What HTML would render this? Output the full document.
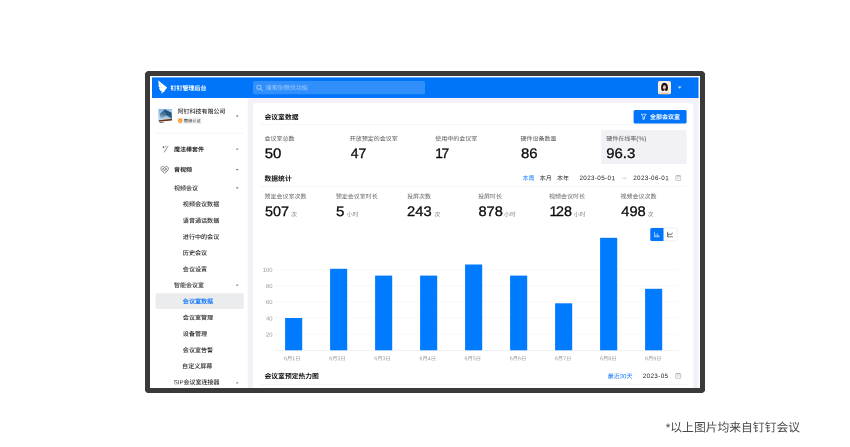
<!DOCTYPE html>
<html lang="zh-CN">
<head>
<meta charset="utf-8">
<title>钉钉管理后台 - 会议室数据</title>
<style>
html,body{margin:0;padding:0;background:#fff;}
body{width:850px;height:447px;position:relative;overflow:hidden;font-family:"Liberation Sans","Noto Sans CJK SC",sans-serif;}
#stage{position:absolute;left:0;top:0;width:850px;height:447px;overflow:hidden;background:#fff;}
#shapes{position:absolute;left:0;top:0;display:block;}
#stage span.t{position:absolute;left:0;top:0;display:block;white-space:nowrap;transform-origin:0 50%;}
</style>
</head>
<body>
<div id="stage">
<svg id="shapes" width="850" height="447" viewBox="0 0 850 447">
<path d="M147.6 71 H702.4 Q704 71.6 705 73.6 V390.4 Q704.4 392 702.4 393 H147.6 Q146 392.4 145 390.4 V73.6 Q145.6 72 147.6 71 Z" fill="#3a3a3a"/>
<rect x="150" y="76" width="550" height="312" fill="#fff"/>
<rect x="152" y="77.4" width="546.5" height="20.599999999999994" fill="#0075fa"/>
<svg x="157.5" y="79.9" width="10" height="14.2" viewBox="0 0 10 14.2" ><path d="M1.1 0.4 C2.0 1.8 4.5 3.6 9.6 7.6 C9.0 8.8 8.0 9.9 7.0 10.7 L7.6 11.0 L3.4 13.8 L4.4 11.4 L2.9 10.9 C2.2 9.8 1.7 8.9 1.5 8.0 L2.3 8.1 C1.4 6.9 0.9 5.9 0.7 5.0 L1.5 5.1 C0.8 3.6 0.7 2.0 1.1 0.4 Z" fill="#fff"/>
<path d="M2.4 4.6 L3.6 5.2 M3.0 7.0 L4.6 7.7" stroke="#0075fa" stroke-width="0.5" stroke-opacity="0.5" fill="none"/></svg>
<rect x="253" y="81" width="172" height="13.3" rx="1.5" fill="#fff" fill-opacity="0.19"/>
<svg x="256.0" y="84.3" width="7" height="7" viewBox="0 0 7 7" ><circle cx="2.9" cy="2.9" r="2.2" fill="none" stroke="#cfe3ff" stroke-width="0.7"/><path d="M4.6 4.6 L6.4 6.4" stroke="#cfe3ff" stroke-width="0.75" stroke-linecap="round"/></svg>
<svg x="657.8" y="81" width="13.2" height="13.5" viewBox="0 0 13.2 13.5" ><rect x="0" y="0" width="13.2" height="13.5" rx="2" fill="#fdebd8"/>
<ellipse cx="6.6" cy="5.8" rx="4.5" ry="5.2" fill="#fff"/>
<rect x="1.6" y="9.6" width="10" height="2.4" fill="#f7f1ee"/>
<path d="M6.7 1.7 C9.2 1.7 10.2 4.0 10.2 6.4 C10.2 8.4 9.6 9.8 8.8 10.1 L4.6 10.1 C3.8 9.8 3.3 8.4 3.3 6.4 C3.3 4.0 4.2 1.7 6.7 1.7 Z" fill="#1c1517"/>
<ellipse cx="6.6" cy="6.2" rx="1.45" ry="2.0" fill="#f3c9c0"/>
<ellipse cx="6.6" cy="7.3" rx="0.5" ry="0.35" fill="#d8475a"/>
<path d="M6.0 8.4 L7.4 8.4 L7.7 10.1 L5.9 10.1 Z" fill="#f2a96a"/>
<rect x="1.4" y="11.1" width="10.4" height="0.5" fill="#d9d5d6"/>
<rect x="1.8" y="12.4" width="9.8" height="0.7" fill="#f7b56a"/></svg>
<svg x="677.4" y="86.0" width="4.6" height="3" viewBox="0 0 4.6 3" ><path d="M0.4 0.4 L4.2 0.4 L2.3 2.7 Z" fill="#c4ddfd"/></svg>
<rect x="152" y="98" width="95.69999999999999" height="290" fill="#fff"/>
<rect x="247.7" y="98" width="450.8" height="290" fill="#f1f1f7"/>
<rect x="247.7" y="98" width="450.8" height="0.9" fill="#f9f0f0"/>
<svg x="158.2" y="108.8" width="14" height="14.2" viewBox="0 0 14 14.2" ><defs><linearGradient id="sky" x1="0" y1="0" x2="0.3" y2="1"><stop offset="0" stop-color="#7fb4e6"/><stop offset="0.6" stop-color="#b9d5ee"/><stop offset="1" stop-color="#f3f6f9"/></linearGradient>
<linearGradient id="bld" x1="0.6" y1="0" x2="0.3" y2="1"><stop offset="0" stop-color="#1d486c"/><stop offset="0.55" stop-color="#4f80a8"/><stop offset="1" stop-color="#c6dcee"/></linearGradient></defs>
<rect width="14" height="14.2" rx="1.2" fill="url(#sky)"/>
<path d="M1.6 11.4 L1.8 4.6 L6.6 0.6 L13.2 4.0 L13.6 10.0 Z" fill="url(#bld)"/>
<path d="M6.6 0.6 L13.2 4.0 L13.6 10.0 L8.2 6.2 Z" fill="#1f4d74" fill-opacity="0.75"/>
<path d="M1.6 11.4 L8.2 6.4 L13.6 10.0 L1.6 11.6 Z" fill="#dbe8f4" fill-opacity="0.55"/>
<path d="M0.5 11.4 L14 9.9 L14 11.9 L1.0 13.4 Z" fill="#6a3214"/>
<path d="M0 13.0 L14 11.6 L14 14.2 L0 14.2 Z" fill="#fbfbfb"/>
<path d="M1.4 13.4 L5.6 13.0 L5.6 13.8 L1.4 14.1 Z" fill="#3a2a22" fill-opacity="0.8"/></svg>
<rect x="177.0" y="117.3" width="24.6" height="6.6" rx="1.2" fill="#f4f4f6"/>
<svg x="177.9" y="118.2" width="4.8" height="4.8" viewBox="0 0 4.8 4.8" ><circle cx="2.4" cy="2.4" r="2.3" fill="#ff9318"/><path d="M1.4 2.4 L2.1 3.1 L3.5 1.7" stroke="#fff" stroke-width="0.6" fill="none"/></svg>
<svg x="235.6" y="115.1" width="3.2" height="2.4" viewBox="0 0 3.2 2.4" ><path d="M0.1 0.3 L3.1 0.3 L1.6 2.1 Z" fill="#7a7a7a"/></svg>
<rect x="155.6" y="132.8" width="88.2" height="0.7" fill="#efeff1"/>
<svg x="161.6" y="145.4" width="7.4" height="7.4" viewBox="0 0 7.4 7.4" fill="none" stroke="#444" stroke-width="0.6" stroke-linecap="round"><path d="M2.6 6.8 L6.4 0.8"/><path d="M1.2 1.8 L2.6 1.8 M1.9 1.1 L1.9 2.5"/><path d="M4.1 0.9 L4.1 1.2"/></svg>
<svg x="235.6" y="148.2" width="3.2" height="2.4" viewBox="0 0 3.2 2.4" ><path d="M0.1 0.3 L3.1 0.3 L1.6 2.1 Z" fill="#7a7a7a"/></svg>
<svg x="160" y="165.8" width="9.2" height="8.4" viewBox="0 0 9.2 8.4" fill="none" stroke="#555" stroke-width="0.6" stroke-linejoin="round"><path d="M4.6 1.6 C3.8 0.4 1.6 0.3 0.9 1.9 C0.2 3.6 1.8 5.2 4.6 7.6 C7.4 5.2 9.0 3.6 8.3 1.9 C7.6 0.3 5.4 0.4 4.6 1.6 Z"/><path d="M2.3 2.0 L6.3 6.0 M6.9 2.0 L2.9 6.0 M4.6 1.8 L7.6 4.6 M4.6 1.8 L1.6 4.6"/></svg>
<svg x="235.6" y="168.6" width="3.2" height="2.4" viewBox="0 0 3.2 2.4" ><path d="M0.1 0.3 L3.1 0.3 L1.6 2.1 Z" fill="#7a7a7a"/></svg>
<svg x="235.6" y="187.0" width="3.2" height="2.4" viewBox="0 0 3.2 2.4" ><path d="M0.1 0.3 L3.1 0.3 L1.6 2.1 Z" fill="#7a7a7a"/></svg>
<svg x="235.6" y="284.2" width="3.2" height="2.4" viewBox="0 0 3.2 2.4" ><path d="M0.1 0.3 L3.1 0.3 L1.6 2.1 Z" fill="#7a7a7a"/></svg>
<rect x="155.6" y="293.2" width="88.2" height="15.8" rx="1.5" fill="#ebecee"/>
<svg x="235.6" y="381.4" width="3.2" height="2.4" viewBox="0 0 3.2 2.4" ><path d="M0.1 2.1 L3.1 2.1 L1.6 0.3 Z" fill="#7a7a7a"/></svg>
<path d="M253 388 V106.8 a4 4 0 0 1 4 -4 H689.5 a4 4 0 0 1 4 4 V388 Z" fill="#fff"/>
<rect x="633.6" y="110" width="53" height="13.5" rx="1.5" fill="#0075fa"/>
<svg x="640.7" y="113.5" width="6.2" height="6.6" viewBox="0 0 6.2 6.6" fill="none" stroke="#fff" stroke-width="0.75" stroke-linejoin="round"><path d="M0.6 0.6 L5.6 0.6 L3.9 3.1 L3.9 5.3 L2.3 6.0 L2.3 3.1 Z"/></svg>
<rect x="259.6" y="124.5" width="427" height="0.6" fill="#f1f1f3"/>
<rect x="601.2" y="130.1" width="85.4" height="33.9" rx="1" fill="#f2f2f6"/>
<svg x="621.6" y="176.3" width="5" height="3.6" viewBox="0 0 5 3.6" fill="none" stroke="#b8b8b8" stroke-width="0.5"><path d="M0.3 1.8 H4.4 M3.2 0.7 L4.4 1.8 L3.2 2.9"/></svg>
<svg x="675.3" y="175" width="6" height="5.8" viewBox="0 0 6 5.8" fill="none" stroke="#777" stroke-width="0.5"><rect x="0.4" y="0.8" width="5.2" height="4.6" rx="0.6"/><path d="M1.9 0.2 L1.9 1.5 M4.1 0.2 L4.1 1.5 M2 3 L4 3"/></svg>
<rect x="259.6" y="186.2" width="427" height="0.6" fill="#f1f1f3"/>
<rect x="650.3" y="227.9" width="26.8" height="13" rx="1.5" fill="#fff" stroke="#e3e4e8" stroke-width="0.6"/>
<path d="M651.8 227.9 H663.5 V240.9 H651.8 a1.5 1.5 0 0 1 -1.5 -1.5 V229.4 a1.5 1.5 0 0 1 1.5 -1.5 Z" fill="#0075fa"/>
<svg x="653.9" y="231.4" width="6" height="6" viewBox="0 0 6 6" fill="none" stroke="#fff" stroke-width="0.6"><path d="M0.5 0.3 L0.5 5.5 L5.8 5.5"/><path d="M2 5.5 L2 3.2 M3.4 5.5 L3.4 2 M4.8 5.5 L4.8 3.8"/></svg>
<svg x="667.1" y="231.4" width="6" height="6" viewBox="0 0 6 6" fill="none" stroke="#222" stroke-width="0.75"><path d="M0.5 0.3 L0.5 5.5 L5.8 5.5"/><path d="M0.8 3.6 L2.4 2.6 L3.6 3.2 L5.6 1.6"/></svg>
<rect x="274.3" y="333.8" width="404.4" height="0.6" fill="#f5f5f7"/>
<rect x="274.3" y="317.6" width="404.4" height="0.6" fill="#f5f5f7"/>
<rect x="274.3" y="301.4" width="404.4" height="0.6" fill="#f5f5f7"/>
<rect x="274.3" y="285.2" width="404.4" height="0.6" fill="#f5f5f7"/>
<rect x="274.3" y="269.0" width="404.4" height="0.6" fill="#f5f5f7"/>
<rect x="274.3" y="350.2" width="404.4" height="0.6" fill="#ececef"/>
<rect x="285.1" y="318" width="17.1" height="32.3" fill="#007aff"/>
<rect x="330.1" y="268.8" width="17.1" height="81.5" fill="#007aff"/>
<rect x="375.1" y="275.6" width="17.1" height="74.7" fill="#007aff"/>
<rect x="420.1" y="275.6" width="17.1" height="74.7" fill="#007aff"/>
<rect x="465.1" y="264.5" width="17.1" height="85.8" fill="#007aff"/>
<rect x="510.1" y="275.6" width="17.1" height="74.7" fill="#007aff"/>
<rect x="555.1" y="303.3" width="17.1" height="47.0" fill="#007aff"/>
<rect x="600.1" y="237.8" width="17.1" height="112.5" fill="#007aff"/>
<rect x="645.1" y="288.8" width="17.1" height="61.5" fill="#007aff"/>
<svg x="675.2" y="372.9" width="6" height="5.8" viewBox="0 0 6 5.8" fill="none" stroke="#777" stroke-width="0.5"><rect x="0.4" y="0.8" width="5.2" height="4.6" rx="0.6"/><path d="M1.9 0.2 L1.9 1.5 M4.1 0.2 L4.1 1.5 M2 3 L4 3"/></svg>
<rect x="259.6" y="384.1" width="427" height="0.6" fill="#f1f1f3"/>
</svg>
<span class="t" style="font-size:6px;line-height:9.0px;color:#fff;font-weight:700;transform:translate(170.5px,84.35px) rotate(0.03deg);">钉钉管理后台</span>
<span class="t" style="font-size:6px;line-height:9.0px;color:rgba(255,255,255,0.5);transform:translate(265.75px,83.74px) rotate(0.03deg);">搜索你想找功能</span>
<span class="t" style="font-size:6px;line-height:9.0px;color:#2a2a2a;font-weight:500;transform:translate(177.55px,107.41px) rotate(0.03deg);">阿钉科技有限公司</span>
<span class="t" style="font-size:4.3px;line-height:6.45px;color:#2e2e2e;transform:translate(183.65px,118.25px) rotate(0.03deg);">高级认证</span>
<span class="t" style="font-size:6px;line-height:9.0px;color:#1f1f1f;font-weight:700;transform:translate(174.0px,145.59px) rotate(0.03deg);">魔法棒套件</span>
<span class="t" style="font-size:6px;line-height:9.0px;color:#1f1f1f;font-weight:700;transform:translate(174.0px,165.74px) rotate(0.03deg);">音视频</span>
<span class="t" style="font-size:6px;line-height:9.0px;color:#2a2a2a;font-weight:500;transform:translate(174.0px,184.14px) rotate(0.03deg);">视频会议</span>
<span class="t" style="font-size:6.08px;line-height:9.12px;color:#2a2a2a;font-weight:500;transform:translate(182.8px,199.34px) rotate(0.03deg);">视频会议数据</span>
<span class="t" style="font-size:6.08px;line-height:9.12px;color:#2a2a2a;font-weight:500;transform:translate(182.8px,215.74px) rotate(0.03deg);">语音通话数据</span>
<span class="t" style="font-size:6.08px;line-height:9.12px;color:#2a2a2a;font-weight:500;transform:translate(182.8px,231.89px) rotate(0.03deg);">进行中的会议</span>
<span class="t" style="font-size:6.08px;line-height:9.12px;color:#2a2a2a;font-weight:500;transform:translate(182.8px,248.04px) rotate(0.03deg);">历史会议</span>
<span class="t" style="font-size:6.08px;line-height:9.12px;color:#2a2a2a;font-weight:500;transform:translate(182.8px,264.42px) rotate(0.03deg);">会议设置</span>
<span class="t" style="font-size:6px;line-height:9.0px;color:#2a2a2a;font-weight:500;transform:translate(174.0px,281.22px) rotate(0.03deg);">智能会议室</span>
<span class="t" style="font-size:6.08px;line-height:9.12px;color:#1a7bff;font-weight:700;transform:translate(182.8px,296.6px) rotate(0.03deg);">会议室数据</span>
<span class="t" style="font-size:6.08px;line-height:9.12px;color:#2a2a2a;font-weight:500;transform:translate(182.8px,312.82px) rotate(0.03deg);">会议室管理</span>
<span class="t" style="font-size:6.08px;line-height:9.12px;color:#2a2a2a;font-weight:500;transform:translate(182.8px,329.08px) rotate(0.03deg);">设备管理</span>
<span class="t" style="font-size:6.08px;line-height:9.12px;color:#2a2a2a;font-weight:500;transform:translate(182.8px,345.22px) rotate(0.03deg);">会议室告警</span>
<span class="t" style="font-size:6.08px;line-height:9.12px;color:#2a2a2a;font-weight:500;transform:translate(182.05px,361.29px) rotate(0.03deg);">自定义屏幕</span>
<span class="t" style="font-size:6px;line-height:9.0px;color:#2a2a2a;font-weight:500;transform:translate(173.75px,378.33px) rotate(0.03deg);">SIP会议室连接器</span>
<span class="t" style="font-size:6.8px;line-height:10.2px;color:#111;font-weight:700;transform:translate(264.5px,112.5px) rotate(0.03deg);">会议室数据</span>
<span class="t" style="font-size:6px;line-height:9.0px;color:#fff;font-weight:700;transform:translate(650.05px,112.88px) rotate(0.03deg);">全部会议室</span>
<span class="t" style="font-size:6px;line-height:9.0px;color:#555;transform:translate(264.5px,134.72px) rotate(0.03deg);">会议室总数</span>
<span class="t" style="font-size:13.9px;line-height:16px;color:#0a0a0a;transform:translate(264.75px,145.03px) rotate(0.03deg) scaleX(1.0768);-webkit-text-stroke:0.3px #0a0a0a;">50</span>
<span class="t" style="font-size:6px;line-height:9.0px;color:#555;transform:translate(349.75px,134.72px) rotate(0.03deg);">开放预定的会议室</span>
<span class="t" style="font-size:13.9px;line-height:16px;color:#0a0a0a;transform:translate(350.75px,145.03px) rotate(0.03deg) scaleX(1.0051);-webkit-text-stroke:0.3px #0a0a0a;">47</span>
<span class="t" style="font-size:6px;line-height:9.0px;color:#555;transform:translate(435.25px,134.72px) rotate(0.03deg);">使用中的会议室</span>
<span class="t" style="font-size:13.9px;line-height:16px;color:#0a0a0a;transform:translate(435.25px,145.03px) rotate(0.03deg) scaleX(0.9906);-webkit-text-stroke:0.3px #0a0a0a;"><span style="margin-right:-1.5px">1</span>7</span>
<span class="t" style="font-size:6px;line-height:9.0px;color:#555;transform:translate(520.5px,134.72px) rotate(0.03deg);">硬件设备数量</span>
<span class="t" style="font-size:13.9px;line-height:16px;color:#0a0a0a;transform:translate(521.0px,145.03px) rotate(0.03deg) scaleX(1.0729);-webkit-text-stroke:0.3px #0a0a0a;">86</span>
<span class="t" style="font-size:6px;line-height:9.0px;color:#555;transform:translate(606.25px,134.72px) rotate(0.03deg);">硬件在线率<span style="font-size:6.6px;line-height:0">(%)</span></span>
<span class="t" style="font-size:13.9px;line-height:16px;color:#0a0a0a;transform:translate(606.25px,145.03px) rotate(0.03deg) scaleX(1.0744);-webkit-text-stroke:0.3px #0a0a0a;">96.3</span>
<span class="t" style="font-size:6.8px;line-height:10.2px;color:#111;font-weight:700;transform:translate(264.5px,173.91px) rotate(0.03deg);">数据统计</span>
<span class="t" style="font-size:6px;line-height:9.0px;color:#1a7bff;transform:translate(522.5px,174.36px) rotate(0.03deg);">本周</span>
<span class="t" style="font-size:6px;line-height:9.0px;color:#222;transform:translate(539.75px,174.36px) rotate(0.03deg);">本月</span>
<span class="t" style="font-size:6px;line-height:9.0px;color:#222;transform:translate(557.0px,174.36px) rotate(0.03deg);">本年</span>
<span class="t" style="font-size:6.3px;line-height:9.45px;color:#222;transform:translate(579.45px,173.11px) rotate(0.03deg);letter-spacing:0.36px;">2023-05-01</span>
<span class="t" style="font-size:6.3px;line-height:9.45px;color:#222;transform:translate(633.2px,173.11px) rotate(0.03deg);letter-spacing:0.36px;">2023-06-01</span>
<span class="t" style="font-size:6px;line-height:9.0px;color:#666;transform:translate(264.5px,192.45px) rotate(0.03deg);">预定会议室次数</span>
<span class="t" style="font-size:13.9px;line-height:16px;color:#0a0a0a;transform:translate(265.0px,203.05px) rotate(0.03deg) scaleX(1.0338);-webkit-text-stroke:0.3px #0a0a0a;">507</span>
<span class="t" style="font-size:6px;line-height:9.0px;color:#888;transform:translate(291.0px,210.52px) rotate(0.03deg);">次</span>
<span class="t" style="font-size:6px;line-height:9.0px;color:#666;transform:translate(335.75px,192.45px) rotate(0.03deg);">预定会议室时长</span>
<span class="t" style="font-size:13.9px;line-height:16px;color:#0a0a0a;transform:translate(336.0px,203.05px) rotate(0.03deg) scaleX(1.0904);-webkit-text-stroke:0.3px #0a0a0a;">5</span>
<span class="t" style="font-size:6px;line-height:9.0px;color:#888;transform:translate(346.75px,210.52px) rotate(0.03deg);">小时</span>
<span class="t" style="font-size:6px;line-height:9.0px;color:#666;transform:translate(407.0px,192.45px) rotate(0.03deg);">投屏次数</span>
<span class="t" style="font-size:13.9px;line-height:16px;color:#0a0a0a;transform:translate(407.0px,203.05px) rotate(0.03deg) scaleX(1.0607);-webkit-text-stroke:0.3px #0a0a0a;">243</span>
<span class="t" style="font-size:6px;line-height:9.0px;color:#888;transform:translate(434.25px,210.52px) rotate(0.03deg);">次</span>
<span class="t" style="font-size:6px;line-height:9.0px;color:#666;transform:translate(478.0px,192.45px) rotate(0.03deg);">投屏时长</span>
<span class="t" style="font-size:13.9px;line-height:16px;color:#0a0a0a;transform:translate(478.5px,203.05px) rotate(0.03deg) scaleX(1.0498);-webkit-text-stroke:0.3px #0a0a0a;">878</span>
<span class="t" style="font-size:6px;line-height:9.0px;color:#888;transform:translate(504.0px,210.52px) rotate(0.03deg);">小时</span>
<span class="t" style="font-size:6px;line-height:9.0px;color:#666;transform:translate(549.0px,192.45px) rotate(0.03deg);">视频会议时长</span>
<span class="t" style="font-size:13.9px;line-height:16px;color:#0a0a0a;transform:translate(549.5px,203.05px) rotate(0.03deg) scaleX(1.0322);-webkit-text-stroke:0.3px #0a0a0a;"><span style="margin-right:-1.5px">1</span>28</span>
<span class="t" style="font-size:6px;line-height:9.0px;color:#888;transform:translate(573.75px,210.52px) rotate(0.03deg);">小时</span>
<span class="t" style="font-size:6px;line-height:9.0px;color:#666;transform:translate(620.5px,192.45px) rotate(0.03deg);">视频会议次数</span>
<span class="t" style="font-size:13.9px;line-height:16px;color:#0a0a0a;transform:translate(621.25px,203.05px) rotate(0.03deg) scaleX(1.0573);-webkit-text-stroke:0.3px #0a0a0a;">498</span>
<span class="t" style="font-size:6px;line-height:9.0px;color:#888;transform:translate(647.5px,210.52px) rotate(0.03deg);">次</span>
<span class="t" style="font-size:5.9px;line-height:8.85px;color:#979797;transform:translate(265.9px,330.56px) rotate(0.03deg);">20</span>
<span class="t" style="font-size:5.9px;line-height:8.85px;color:#979797;transform:translate(265.9px,314.5px) rotate(0.03deg);">40</span>
<span class="t" style="font-size:5.9px;line-height:8.85px;color:#979797;transform:translate(265.9px,298.08px) rotate(0.03deg);">60</span>
<span class="t" style="font-size:5.9px;line-height:8.85px;color:#979797;transform:translate(265.9px,282.1px) rotate(0.03deg);">80</span>
<span class="t" style="font-size:5.9px;line-height:8.85px;color:#979797;transform:translate(262.65px,265.8px) rotate(0.03deg);">100</span>
<span class="t" style="font-size:5.3px;line-height:7.95px;color:#999;transform:translate(284.12px,355.3px) rotate(0.03deg);">6月1日</span>
<span class="t" style="font-size:5.3px;line-height:7.95px;color:#999;transform:translate(329.2px,355.3px) rotate(0.03deg);">6月2日</span>
<span class="t" style="font-size:5.3px;line-height:7.95px;color:#999;transform:translate(374.27px,355.3px) rotate(0.03deg);">6月3日</span>
<span class="t" style="font-size:5.3px;line-height:7.95px;color:#999;transform:translate(419.48px,355.3px) rotate(0.03deg);">6月4日</span>
<span class="t" style="font-size:5.3px;line-height:7.95px;color:#999;transform:translate(464.55px,355.3px) rotate(0.03deg);">6月5日</span>
<span class="t" style="font-size:5.3px;line-height:7.95px;color:#999;transform:translate(509.75px,355.3px) rotate(0.03deg);">6月6日</span>
<span class="t" style="font-size:5.3px;line-height:7.95px;color:#999;transform:translate(554.83px,355.3px) rotate(0.03deg);">6月7日</span>
<span class="t" style="font-size:5.3px;line-height:7.95px;color:#999;transform:translate(600.02px,355.3px) rotate(0.03deg);">6月8日</span>
<span class="t" style="font-size:5.3px;line-height:7.95px;color:#999;transform:translate(645.1px,355.3px) rotate(0.03deg);">6月9日</span>
<span class="t" style="font-size:6.8px;line-height:10.2px;color:#111;font-weight:700;transform:translate(264.5px,371.48px) rotate(0.03deg);">会议室预定热力图</span>
<span class="t" style="font-size:6px;line-height:9.0px;color:#1a7bff;transform:translate(607.75px,372.19px) rotate(0.03deg);">最近30天</span>
<span class="t" style="font-size:6.3px;line-height:9.45px;color:#222;transform:translate(642.75px,371.09px) rotate(0.03deg);letter-spacing:0.36px;">2023-05</span>
<span class="t" style="font-size:11.8px;line-height:17.7px;color:#484848;transform:translate(665.7px,419.46px) rotate(0.03deg);">*以上图片均来自钉钉会议</span>
</div>
</body>
</html>
